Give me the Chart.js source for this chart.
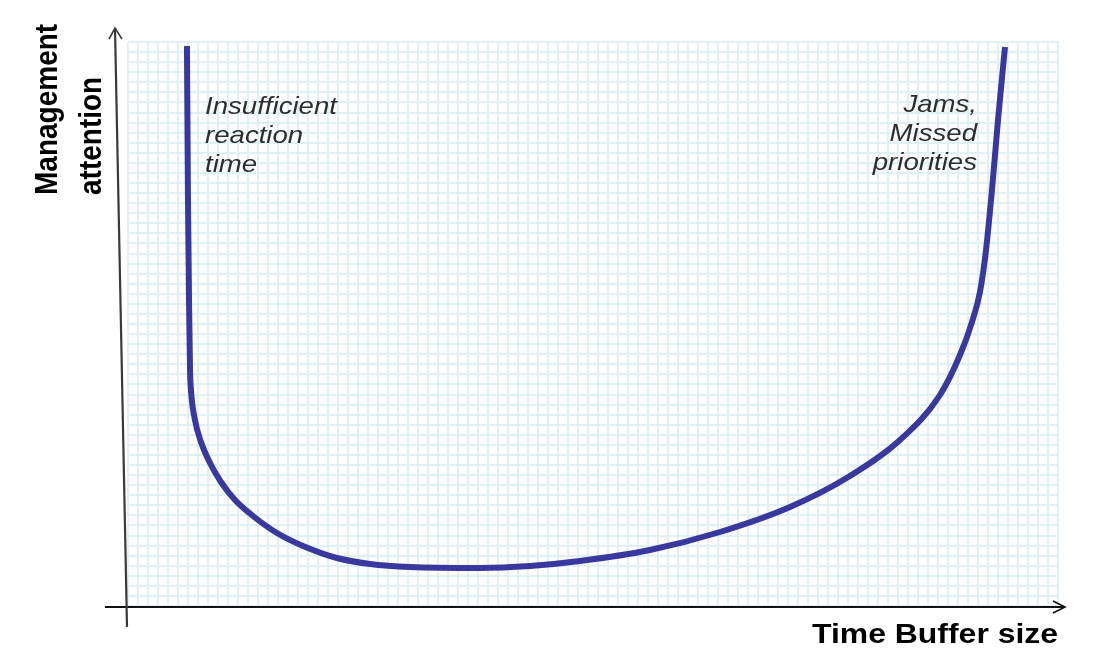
<!DOCTYPE html>
<html>
<head>
<meta charset="utf-8">
<script src="https://cdn.jsdelivr.net/npm/chart.js@4/dist/chart.umd.min.js"></script>
<style>
  html, body { margin: 0; padding: 0; background: #ffffff; }
  #wrap { width: 1106px; height: 664px; }
</style>
</head>
<body>
<div id="wrap"><canvas id="c" width="1106" height="664"></canvas></div>
<script>
// ---- data (x: time buffer size, y: management attention, both 0-100) ----
const bufferSize = [6.34, 6.45, 6.56, 6.67, 6.77, 7.20, 7.85, 8.82, 10.00, 11.51, 13.44, 16.02, 18.82, 22.47, 26.02, 30.32, 37.85, 43.23, 48.60, 56.13, 63.66, 71.18, 77.63, 83.01, 87.31, 89.46, 90.75, 91.61, 92.26, 92.90, 93.55, 94.30];
const attention  = [99.29, 71.99, 54.26, 41.84, 38.30, 32.98, 29.08, 25.35, 21.99, 18.79, 15.96, 12.94, 10.64, 8.51, 7.45, 6.91, 6.74, 7.09, 7.98, 9.93, 13.12, 17.55, 23.05, 29.43, 37.41, 44.50, 50.35, 55.67, 63.12, 73.76, 86.17, 99.11];
const leftNote  = ['Insufficient', 'reaction', 'time'];
const rightNote = ['Jams,', 'Missed', 'priorities'];
const xTitle = 'Time Buffer size';
const yTitle = ['Management', 'attention'];

const curveColor = '#38389f';
const gridColor = '#dff1f4';
const textFont = '"Liberation Sans", Arial, sans-serif';

function stretchedText(ctx, text, x, y, font, align, sx) {
  ctx.save();
  ctx.font = font;
  ctx.textBaseline = 'alphabetic';
  ctx.textAlign = 'left';
  const w = ctx.measureText(text).width * sx;
  let x0 = x;
  if (align === 'right') x0 = x - w;
  else if (align === 'center') x0 = x - w / 2;
  ctx.translate(x0, y);
  ctx.scale(sx, 1);
  ctx.fillText(text, 0, 0);
  ctx.restore();
}

const decor = {
  id: 'decor',
  afterDatasetsDraw(chart) {
    const ctx = chart.ctx;
    const a = chart.chartArea;
    ctx.save();
    // x axis with arrow
    const ay = a.bottom + 1;
    ctx.strokeStyle = '#111';
    ctx.lineWidth = 2;
    ctx.beginPath();
    ctx.moveTo(a.left - 23, ay);
    ctx.lineTo(a.right + 7, ay);
    ctx.stroke();
    ctx.lineWidth = 1.6;
    ctx.beginPath();
    ctx.moveTo(a.right - 5, ay - 6);
    ctx.lineTo(a.right + 7, ay);
    ctx.lineTo(a.right - 5, ay + 6);
    ctx.stroke();
    // y axis (slightly slanted) with arrow
    const bx = a.left - 1, by = a.bottom + 21;
    const tx = a.left - 13, ty = a.top - 14;
    ctx.strokeStyle = '#3a3a3a';
    ctx.lineWidth = 2.2;
    ctx.beginPath();
    ctx.moveTo(bx, by);
    ctx.lineTo(tx, ty);
    ctx.stroke();
    ctx.lineWidth = 1.6;
    ctx.beginPath();
    ctx.moveTo(tx - 6, ty + 11);
    ctx.lineTo(tx, ty);
    ctx.lineTo(tx + 7, ty + 11);
    ctx.stroke();

    // annotations
    ctx.fillStyle = '#2e2e2e';
    const itFont = 'italic 24px ' + textFont;
    leftNote.forEach((t, i) => stretchedText(ctx, t, a.left + 77, a.top + 72 + i * 29, itFont, 'left', 1.15));
    rightNote.forEach((t, i) => stretchedText(ctx, t, a.right - 81, a.top + 70 + i * 29, itFont, 'right', 1.15));

    // axis titles
    ctx.fillStyle = '#000';
    stretchedText(ctx, xTitle, a.right, a.bottom + 37, 'bold 28px ' + textFont, 'right', 1.14);
    ctx.font = 'bold 28px ' + textFont;
    ctx.textAlign = 'left';
    ctx.textBaseline = 'alphabetic';
    const yBase = [57, 101];
    yTitle.forEach((t, i) => {
      ctx.save();
      ctx.translate(yBase[i], a.top + 153);
      ctx.rotate(-Math.PI / 2);
      ctx.scale(1, 1.1);
      ctx.fillText(t, 0, 0);
      ctx.restore();
    });
    ctx.restore();
  }
};

new Chart(document.getElementById('c'), {
  type: 'line',
  data: {
    datasets: [{
      data: bufferSize.map((x, i) => ({ x: x, y: attention[i] })),
      borderColor: curveColor,
      borderWidth: 6,
      pointRadius: 0,
      fill: false,
      cubicInterpolationMode: 'monotone',
      borderCapStyle: 'butt',
      clip: false
    }]
  },
  options: {
    responsive: false,
    animation: false,
    devicePixelRatio: 1,
    layout: { padding: { left: 128, right: 48, top: 42, bottom: 58 } },
    plugins: { legend: { display: false }, tooltip: { enabled: false }, title: { display: false } },
    scales: {
      x: {
        type: 'linear', min: 0, max: 100,
        ticks: { display: false, count: 94 },
        grid: { color: gridColor, lineWidth: 2, drawTicks: false },
        border: { display: false }
      },
      y: {
        type: 'linear', min: 0, max: 100,
        ticks: { display: false, count: 57 },
        grid: { color: gridColor, lineWidth: 2, drawTicks: false },
        border: { display: false }
      }
    }
  },
  plugins: [decor]
});
</script>
</body>
</html>
